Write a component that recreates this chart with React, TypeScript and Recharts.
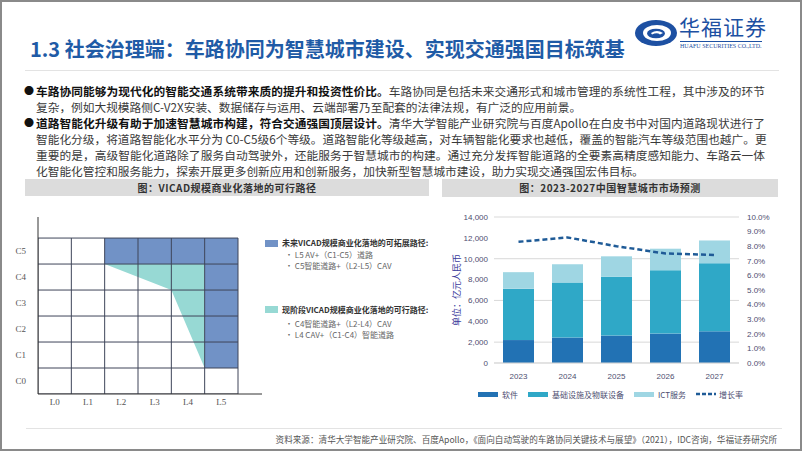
import React from 'react';
import {
  ComposedChart,
  Bar,
  Line,
  Area,
  XAxis,
  YAxis,
  CartesianGrid,
  Legend,
  ReferenceArea,
} from 'recharts';

// ---- right chart: 2023-2027 smart city market (亿元人民币) ----
const years = ['2023', '2024', '2025', '2026', '2027'];
const software = [2200, 2440, 2630, 2820, 3040];
const infra = [4930, 5290, 5640, 6080, 6530];
const ictService = [1580, 1740, 1960, 2060, 2180];
const growth = [8.3, 8.6, 8.0, 7.5, 7.4];
const amountTicks = [0, 2000, 4000, 6000, 8000, 10000, 12000, 14000];
const rateTicks = [0, 1, 2, 3, 4, 5, 6, 7, 8, 9, 10];

// ---- left chart: VICAD grid ----
const levels = ['L0', 'L1', 'L2', 'L3', 'L4', 'L5'];
const roads = ['C0', 'C1', 'C2', 'C3', 'C4', 'C5'];
const gridEdges = [0, 1, 2, 3, 4, 5, 6];
// future expandable path: [x1, x2, y1, y2] in grid units
const futureBlocks = [
  [2, 6, 5, 6],
  [5, 6, 1, 5],
];
// current feasible path: range [low, high] at each level boundary
const currentLevel = [2, 4, 5];
const currentSpan = [[5, 5], [4, 5], [1, 5]];

const CJK = '"Noto Sans CJK SC", "Noto Sans", sans-serif';
const BLUE = '#2272b4';
const TEAL = '#2fa8c7';
const LIGHT = '#9fd6e3';
const DASH = '#1f5b97';
const GRID_DARK = '#3e4559';

const marketRows = years.map((y, i) => ({
  year: y,
  software: software[i],
  infra: infra[i],
  ict: ictService[i],
  growth: growth[i],
}));

const vicadRows = currentLevel.map((x, i) => ({ level: x, span: currentSpan[i] }));
const last = gridEdges[gridEdges.length - 1];
const verticalEdges = gridEdges.map((v) => [{ level: v, g: 0 }, { level: v, g: last }]);
const horizontalEdges = gridEdges.map((v) => [{ level: 0, g: v }, { level: last, g: v }]);

function MarketLegend() {
  const items = [
    { name: '软件', color: BLUE },
    { name: '基础设施及物联设备', color: TEAL },
    { name: 'ICT服务', color: LIGHT },
  ];
  return (
    <div style={{ display: 'flex', alignItems: 'center', paddingLeft: 36, fontSize: 8, color: '#4d4d70', fontFamily: CJK, height: 22 }}>
      {items.map((it) => (
        <div key={it.name} style={{ display: 'flex', alignItems: 'center', marginRight: 10 }}>
          <span style={{ width: 20, height: 5, background: it.color, marginRight: 4, display: 'inline-block' }} />
          <span>{it.name}</span>
        </div>
      ))}
      <div style={{ display: 'flex', alignItems: 'center' }}>
        <svg width={20} height={6} style={{ marginRight: 3 }}>
          <line x1={0} y1={3} x2={20} y2={3} stroke={DASH} strokeWidth={2.5} strokeDasharray="4 2" />
        </svg>
        <span>增长率</span>
      </div>
    </div>
  );
}

function UnitLabel(props: any) {
  const { viewBox } = props;
  const cx = viewBox.x + 14;
  const cy = viewBox.y + viewBox.height / 2;
  return (
    <text x={cx} y={cy} transform={`rotate(-90 ${cx} ${cy})`} textAnchor="middle" dominantBaseline="central"
      fontSize={9} fill="#3b3b9c" fontFamily={CJK}>
      单位：亿元人民币
    </text>
  );
}

function MarketChart() {
  return (
    <ComposedChart width={340} height={203} data={marketRows} margin={{ top: 15, right: 0, left: 0, bottom: 0 }} barSize={31}>
      <CartesianGrid vertical={false} stroke="#d9d9d9" />
      <XAxis dataKey="year" height={20} tickLine={false} axisLine={{ stroke: '#d9d9d9' }}
        tick={{ fontSize: 8, fill: '#4d4d70', fontFamily: 'Liberation Sans' }} tickMargin={4} />
      <YAxis domain={[0, 14000]} ticks={amountTicks} width={52} axisLine={false} tickLine={false} tickSize={4} tickMargin={2}
        tick={{ fontSize: 8, fill: '#4d4d70', fontFamily: 'Liberation Sans' }}
        tickFormatter={(v) => v.toLocaleString('en-US')}
        label={<UnitLabel />} />
      <YAxis yAxisId="rate" orientation="right" domain={[0, 10]} ticks={rateTicks} width={43} axisLine={false} tickLine={false}
        tick={{ fontSize: 8, fill: '#4d4d70', fontFamily: 'Liberation Sans' }}
        tickFormatter={(v) => `${Number(v).toFixed(1)}%`} />
      <Bar dataKey="software" name="软件" stackId="a" fill={BLUE} isAnimationActive={false} />
      <Bar dataKey="infra" name="基础设施及物联设备" stackId="a" fill={TEAL} isAnimationActive={false} />
      <Bar dataKey="ict" name="ICT服务" stackId="a" fill={LIGHT} isAnimationActive={false} />
      <Line dataKey="growth" name="增长率" yAxisId="rate" type="linear" stroke={DASH} strokeWidth={2.5}
        strokeDasharray="5 3" dot={false} activeDot={false} isAnimationActive={false} />
      <Legend verticalAlign="bottom" height={22} content={() => <MarketLegend />} />
    </ComposedChart>
  );
}

function VicadChart() {
  return (
    <ComposedChart width={270} height={207} data={vicadRows} margin={{ top: 10, right: 10, left: 6, bottom: 0 }}>
      <XAxis dataKey="level" type="number" domain={[0, 6.72]} allowDataOverflow
        ticks={levels.map((_, i) => i + 0.5)} tickFormatter={(v) => levels[Math.floor(v)]} interval={0}
        height={20} tickLine={false} tickSize={0} tickMargin={5} axisLine={{ stroke: '#333' }}
        tick={{ fontSize: 9, fill: '#555', fontFamily: 'Liberation Serif' }} />
      <YAxis type="number" domain={[0, 6.81]} allowDataOverflow
        ticks={roads.map((_, i) => i + 0.5)} tickFormatter={(v) => roads[Math.floor(v)]} interval={0}
        width={30} tickLine={false} tickSize={0} tickMargin={12} axisLine={{ stroke: '#333' }}
        tick={{ fontSize: 9, fill: '#555', fontFamily: 'Liberation Serif' }} />
      {futureBlocks.map((b, i) => (
        <ReferenceArea key={`fb-${i}`} x1={b[0]} x2={b[1]} y1={b[2]} y2={b[3]} fill="#7192c6" fillOpacity={1} stroke="none" />
      ))}
      <Area dataKey="span" type="linear" fill="#97d9d4" fillOpacity={1} stroke="none" dot={false} activeDot={false} isAnimationActive={false} />
      {verticalEdges.map((seg, i) => (
        <Line key={`gx-${i}`} data={seg} dataKey="g" type="linear" stroke={GRID_DARK} strokeWidth={1}
          dot={false} activeDot={false} isAnimationActive={false} legendType="none" />
      ))}
      {horizontalEdges.map((seg, i) => (
        <Line key={`gy-${i}`} data={seg} dataKey="g" type="linear" stroke={GRID_DARK} strokeWidth={1}
          dot={false} activeDot={false} isAnimationActive={false} legendType="none" />
      ))}
    </ComposedChart>
  );
}

const abs = (left: number, top: number, extra: React.CSSProperties = {}): React.CSSProperties => ({
  position: 'absolute', left, top, ...extra,
});

const bodyLines: { lead?: string; text: string; justify: boolean }[] = [
  { lead: '车路协同能够为现代化的智能交通系统带来质的提升和投资性价比。', text: '车路协同是包括未来交通形式和城市管理的系统性工程，其中涉及的环节', justify: true },
  { text: '复杂，例如大规模路侧C-V2X安装、数据储存与运用、云端部署乃至配套的法律法规，有广泛的应用前景。', justify: false },
  { lead: '道路智能化升级有助于加速智慧城市构建，符合交通强国顶层设计。', text: '清华大学智能产业研究院与百度Apollo在白皮书中对国内道路现状进行了', justify: true },
  { text: '智能化分级，将道路智能化水平分为 C0-C5级6个等级。道路智能化等级越高，对车辆智能化要求也越低，覆盖的智能汽车等级范围也越广。更', justify: true },
  { text: '重要的是，高级智能化道路除了服务自动驾驶外，还能服务于智慧城市的构建。通过充分发挥智能道路的全要素高精度感知能力、车路云一体', justify: true },
  { text: '化智能化管控和服务能力，探索开展更多创新应用和创新服务，加快新型智慧城市建设，助力实现交通强国宏伟目标。', justify: false },
];
const lineTops = [81, 97, 113, 129, 145, 161];

export default function App() {
  return (
    <div style={{ position: 'absolute', left: 0, top: 0, width: 802, height: 451, boxSizing: 'border-box', border: '2px solid #8a8a8a', background: '#fff', fontFamily: CJK, overflow: 'hidden' }}>
      <div style={abs(28, 34, { fontSize: 20, fontWeight: 700, color: '#1f5ba6', lineHeight: '26px', whiteSpace: 'nowrap' })}>
        1.3 社会治理端：车路协同为智慧城市建设、实现交通强国目标筑基
      </div>
      <svg style={abs(631, 16)} width={46} height={30}>
        <ellipse cx={23} cy={15} rx={21} ry={13} fill="#1d50a2" />
        <ellipse cx={24} cy={15} rx={14} ry={8} fill="#fff" />
        <ellipse cx={23} cy={15.5} rx={9} ry={4.8} fill="#1d50a2" />
        <path d="M18 15 Q24 11 30 15 L27 16.5 Q24 14 19 16.5 Z" fill="#fff" />
      </svg>
      <div style={abs(677, 11, { fontSize: 21, color: '#1d50a2', lineHeight: '26px', letterSpacing: 1, whiteSpace: 'nowrap' })}>华福证券</div>
      <div style={abs(678, 39, { fontSize: 6, color: '#1d50a2', fontFamily: 'Liberation Serif', whiteSpace: 'nowrap', borderTop: '1px solid #1d50a2', paddingTop: 1 })}>
        HUAFU SECURITIES CO.,LTD.
      </div>
      <div style={abs(23, 68, { width: 754, height: 1, background: '#e3e3e3' })} />

      {bodyLines.map((ln, i) => (
        <div key={i} style={abs(34, lineTops[i], {
          width: ln.justify ? 729 : 760, fontSize: 11.7, lineHeight: '15px', height: 15, color: '#3a3a3a', whiteSpace: 'nowrap',
          textAlign: ln.justify ? 'justify' : 'left', textAlignLast: ln.justify ? 'justify' : 'left',
        })}>
          {ln.lead && <span style={{ position: 'absolute', left: -12, top: 0, color: '#111', fontSize: 10 }}>●</span>}
          {ln.lead && <span style={{ fontWeight: 700, color: '#111' }}>{ln.lead}</span>}
          {ln.text}
        </div>
      ))}

      <div style={abs(23, 177, { width: 404, height: 17, background: '#dcdcdc', textAlign: 'center', fontSize: 10, fontWeight: 700, lineHeight: '17px', color: '#333', letterSpacing: 0.5 })}>
        图：VICAD规模商业化落地的可行路径
      </div>
      <div style={abs(440, 177, { width: 336, height: 18, background: '#dcdcdc', textAlign: 'center', fontSize: 10, fontWeight: 700, lineHeight: '18px', color: '#333', letterSpacing: 0.5 })}>
        图：2023-2027中国智慧城市市场预测
      </div>

      <div style={abs(0, 205)}>
        <VicadChart />
      </div>
      <div style={abs(263, 238, { width: 13, height: 7, background: '#7192c6' })} />
      <div style={abs(280, 235, { fontSize: 8, fontWeight: 700, color: '#333', lineHeight: '12px', whiteSpace: 'nowrap' })}>未来VICAD规模商业化落地的可拓展路径:</div>
      <div style={abs(283, 247, { fontSize: 8, color: '#666', lineHeight: '11px', whiteSpace: 'nowrap' })}>· L5 AV+（C1-C5）道路</div>
      <div style={abs(283, 258, { fontSize: 8, color: '#666', lineHeight: '11px', whiteSpace: 'nowrap' })}>· C5智能道路+（L2-L5）CAV</div>
      <div style={abs(263, 304, { width: 13, height: 7, background: '#97d9d4' })} />
      <div style={abs(280, 302, { fontSize: 8, fontWeight: 700, color: '#333', lineHeight: '12px', whiteSpace: 'nowrap' })}>现阶段VICAD规模商业化落地的可行路径:</div>
      <div style={abs(283, 316, { fontSize: 8, color: '#666', lineHeight: '11px', whiteSpace: 'nowrap' })}>· C4智能道路+（L2-L4）CAV</div>
      <div style={abs(283, 327, { fontSize: 8, color: '#666', lineHeight: '11px', whiteSpace: 'nowrap' })}>· L4 CAV+（C1-C4）智能道路</div>

      <div style={abs(440, 200)}>
        <MarketChart />
      </div>

      <div style={abs(24, 426, { width: 756, height: 1, background: '#e3e3e3' })} />
      <div style={abs(0, 431, { width: 775, textAlign: 'right', fontSize: 8.6, color: '#555', lineHeight: '13px', whiteSpace: 'nowrap' })}>
        资料来源：清华大学智能产业研究院、百度Apollo，《面向自动驾驶的车路协同关键技术与展望》（2021），IDC咨询，华福证券研究所
      </div>
    </div>
  );
}
